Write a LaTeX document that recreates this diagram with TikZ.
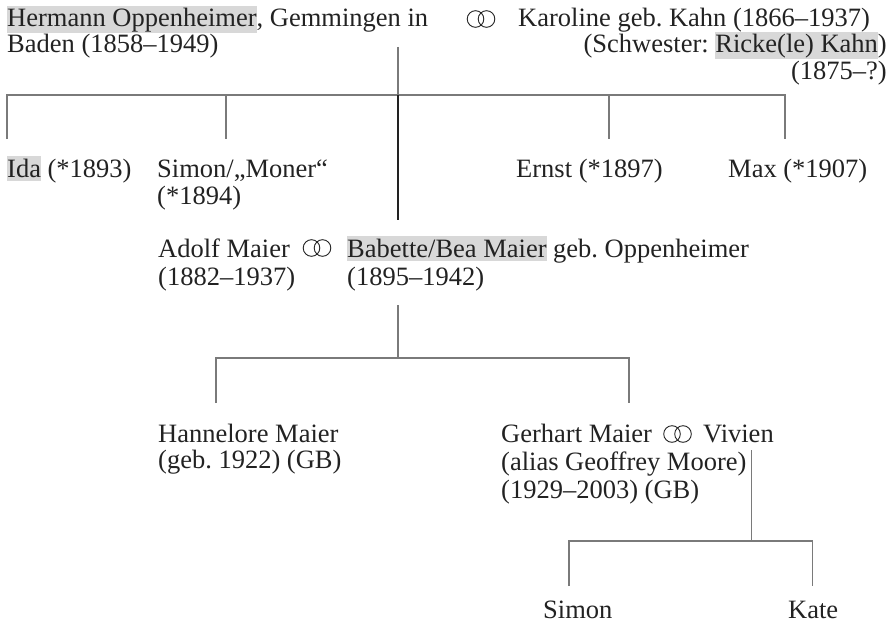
\documentclass[tikz,border=0pt]{standalone}
\usepackage{fontspec}
\setmainfont{Liberation Serif}
\frenchspacing
\definecolor{hlgray}{HTML}{D8D8D8}
\definecolor{linegray}{HTML}{7A7A7A}
\definecolor{txtcol}{HTML}{222222}
\newcommand\hlbox[1]{{\setlength{\fboxsep}{0pt}\colorbox{hlgray}{\rule[-4pt]{0pt}{25pt}#1}}}
\tikzset{
  txt/.style={inner sep=0pt, anchor=base west, text=txtcol, font=\fontsize{26.5}{27}\selectfont\frenchspacing},
  txtr/.style={txt, anchor=base east},
  tree/.style={draw=linegray, line width=1.2pt},
  stem/.style={draw=txtcol, line width=2pt},
  ring/.style={draw=txtcol, line width=0.9pt},
  rings/.pic={\draw[ring] (-5.5,0) circle[radius=8.3]; \draw[ring] (5.5,0) circle[radius=8.3];}
}
\begin{document}
\begin{tikzpicture}[x=1pt,y=-1pt]
\useasboundingbox (0,0) rectangle (893,623);
% generation 1
\node[txt] (h1) at (7,27) {\hlbox{Hermann Oppenheimer}, Gemmingen in};
\node[txt] (h2) at (7,53) {Baden (1858–1949)};
\coordinate (m1) at (481,19);
\pic at (m1) {rings};
\node[txt] (k1) at (518,27) {Karoline geb. Kahn (1866–1937)};
\node[txtr] (k2) at (887,53) {(Schwester: \hlbox{Ricke(le) Kahn})};
\node[txtr] (k3) at (887,80) {(1875–?)};
% generation 2
\node[txt] (c1) at (7,177) {\hlbox{Ida} (*1893)};
\node[txt] (c2) at (157,177) {Simon/„Moner“};
\node[txt] (c2b) at (157,204) {(*1894)};
\node[txt] (c3) at (516,177) {Ernst (*1897)};
\node[txt] (c4) at (728,177) {Max (*1907)};
\node[txt] (a1) at (158,257) {Adolf Maier};
\node[txt] (a2) at (158,285) {(1882–1937)};
\coordinate (m2) at (317,248);
\pic at (m2) {rings};
\node[txt] (b1) at (347,257) {\hlbox{Babette/Bea Maier} geb. Oppenheimer};
\node[txt] (b2) at (347,285) {(1895–1942)};
% generation 3
\node[txt] (g1) at (158,442) {Hannelore Maier};
\node[txt] (g2) at (158,468) {(geb. 1922) (GB)};
\node[txt] (e1) at (501,442) {Gerhart Maier};
\coordinate (m3) at (677.5,434);
\pic at (m3) {rings};
\node[txt] (v1) at (703,442) {Vivien};
\node[txt] (e2) at (501,470) {(alias Geoffrey Moore)};
\node[txt] (e3) at (501,498) {(1929–2003) (GB)};
% generation 4
\node[txt] (s1) at (543,618) {Simon};
\node[txt] (s2) at (788,618) {Kate};
% connector points
\coordinate (p0) at (398,47);
\coordinate (p1) at (398,95);
\coordinate (p2) at (398,220);
\coordinate (hl) at (7,95);
\coordinate (hr) at (785,95);
\coordinate (d1) at (7,139);
\coordinate (d2a) at (226,95);
\coordinate (d2) at (226,139);
\coordinate (d3a) at (609,95);
\coordinate (d3) at (609,139);
\coordinate (d4) at (785,139);
\coordinate (q0) at (398,305);
\coordinate (q1) at (398,358);
\coordinate (ql) at (216,358);
\coordinate (qr) at (629,358);
\coordinate (ql2) at (216,403);
\coordinate (qr2) at (629,403);
\coordinate (r0) at (751.7,450);
\coordinate (r1) at (751.7,541);
\coordinate (rl) at (569,541);
\coordinate (rr) at (812.7,541);
\coordinate (rl2) at (569,586);
\coordinate (rr2) at (812.7,586);
% connectors
\draw[tree] (p0) -- (p1);
\draw[tree] (d1) -- (hl) -- (hr) -- (d4);
\draw[tree] (d2a) -- (d2);
\draw[tree] (d3a) -- (d3);
\draw[stem] (p1) -- (p2);
\draw[tree] (q0) -- (q1);
\draw[tree] (ql2) -- (ql) -- (qr) -- (qr2);
\draw[tree] (r0) -- (r1);
\draw[tree] (rl2) -- (rl) -- (rr) -- (rr2);
\end{tikzpicture}
\end{document}
